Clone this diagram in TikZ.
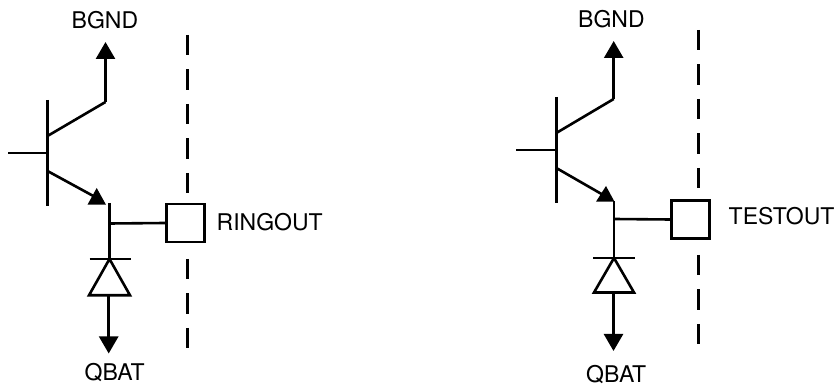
\documentclass[tikz,border=0pt]{standalone}
\usepackage{fontspec}
\setmainfont{TeX Gyre Heros}
\usetikzlibrary{arrows.meta}
\tikzset{
  wire/.style={line width=2.6pt},
  termarrow/.style={line width=2.6pt,-{Triangle[width=19pt,length=17pt,sharp]}},
  sepline/.style={line width=2.6pt,dash pattern=on 20.5pt off 14pt},
  padbox/.style={draw,line width=2.6pt,minimum size=38pt,inner sep=0pt,fill=white},
  lbl/.style={inner sep=0pt,font=\fontsize{23}{27}\selectfont,anchor=base west},
  headfill/.style={fill=black,draw=none},
  diodetri/.style={line width=2.6pt,line join=miter}
}
\begin{document}
\begin{tikzpicture}[x=1pt,y=-1pt]
\useasboundingbox (0,0) rectangle (839,387);
% left circuit
\coordinate (lbt) at (47.5,100);
\coordinate (lbb) at (47.5,206.5);
\coordinate (lbin) at (8,153);
\coordinate (lbj) at (47.5,153);
\coordinate (lc1) at (47.5,136);
\coordinate (lc2) at (105.5,102);
\coordinate (ltop) at (105.5,42);
\coordinate (le1) at (47.5,171);
\coordinate (le2) at (97,198);
\coordinate (ln1) at (109.5,203);
\coordinate (lj) at (109.5,223.5);
\coordinate (ln2) at (109.5,259);
\coordinate (ld1) at (89.5,259);
\coordinate (ld2) at (131,259);
\coordinate (ldl) at (89,295.3);
\coordinate (ldr) at (130,295.3);
\coordinate (lo) at (108.7,295.3);
\coordinate (lbot) at (108.7,353.5);
\coordinate (lsa) at (187.7,35);
\coordinate (lsb) at (187.7,194);
\coordinate (lsc) at (187.7,259);
\coordinate (lsd) at (187.7,350);
\draw[wire] (lbt) -- (lbb);
\draw[wire] (lbin) -- (lbj);
\draw[wire,line join=miter] (lc1) -- (lc2);
\draw[termarrow] (lc2) -- (ltop);
\draw[wire] (le1) -- (le2);
\fill[headfill] (87.5,204.7) -- (106,204.7) -- (96.7,188) -- cycle;
\draw[wire] (ln1) -- (ln2);
\draw[wire] (ld1) -- (ld2);
\draw[diodetri] (ln2) -- (ldr) -- (ldl) -- cycle;
\draw[termarrow] (lo) -- (lbot);
\draw[sepline] (lsa) -- (lsb);
\draw[sepline] (lsc) -- (lsd);
\node[padbox] (lpad) at (185.5,223) {};
\draw[wire] (lj) -- (lpad.west);
\node[lbl] (lgnd) at (71.5,29) {BGND};
\node[lbl] (lout) at (216.5,230.8) {RINGOUT};
\node[lbl] (lbat) at (84.5,381) {QBAT};
% right circuit
\coordinate (rbt) at (556.3,97);
\coordinate (rbb) at (556.3,203.5);
\coordinate (rbin) at (516,150);
\coordinate (rbj) at (556.3,150);
\coordinate (rc1) at (556.3,133);
\coordinate (rc2) at (613.7,99);
\coordinate (rtop) at (613.7,41);
\coordinate (re1) at (556.3,168);
\coordinate (re2) at (605,196);
\coordinate (rn1) at (614,201);
\coordinate (rj) at (614,219);
\coordinate (rn2) at (614,258);
\coordinate (rd1) at (593,258);
\coordinate (rd2) at (635,258);
\coordinate (rdl) at (594,292.5);
\coordinate (rdr) at (634,292.5);
\coordinate (ro) at (613.5,292.5);
\coordinate (rbot) at (613.5,351);
\coordinate (rsa) at (698.3,30);
\coordinate (rsb) at (698.3,189);
\coordinate (rsc) at (698.3,255);
\coordinate (rsd) at (698.3,344);
\draw[wire] (rbt) -- (rbb);
\draw[wire] (rbin) -- (rbj);
\draw[wire] (rc1) -- (rc2);
\draw[termarrow] (rc2) -- (rtop);
\draw[wire] (re1) -- (re2);
\fill[headfill] (596,201.7) -- (614.5,201.7) -- (606,186) -- cycle;
\draw[wire] (rn1) -- (rn2);
\draw[wire] (rd1) -- (rd2);
\draw[diodetri] (rn2) -- (rdr) -- (rdl) -- cycle;
\draw[termarrow] (ro) -- (rbot);
\draw[sepline] (rsa) -- (rsb);
\draw[sepline] (rsc) -- (rsd);
\node[padbox] (rpad) at (690.5,219.5) {};
\draw[wire] (rj) -- (rpad.west);
\node[lbl] (rgnd) at (578,27.5) {BGND};
\node[lbl] (rout) at (728.5,225) {TESTOUT};
\node[lbl] (rbat) at (586,383) {QBAT};
\end{tikzpicture}
\end{document}
